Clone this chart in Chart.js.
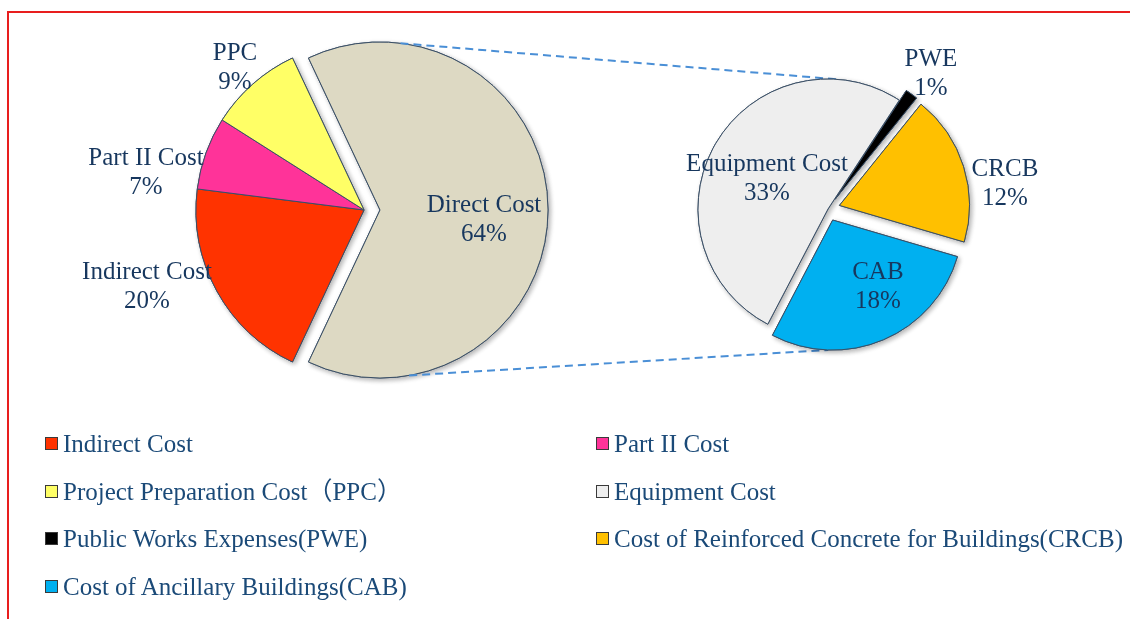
<!DOCTYPE html>
<html><head><meta charset="utf-8">
<script src="https://cdn.jsdelivr.net/npm/chart.js@4.4.1/dist/chart.umd.min.js"></script>
<style>
html,body{margin:0;padding:0;width:1130px;height:619px;overflow:hidden;background:#fff;}
#frame{position:absolute;left:7px;top:11px;width:1300px;height:800px;border:2px solid #e81e1e;box-sizing:border-box;}
canvas{position:absolute;left:0;top:0;}
#legend{position:absolute;left:0;top:0;width:1130px;height:619px;font-family:"Liberation Serif","Times New Roman","Noto Sans CJK SC",serif;font-size:25px;color:#1B4A78;}
.item{position:absolute;display:flex;align-items:center;white-space:nowrap;height:25px;line-height:25px;}
.sw{width:11px;height:11px;border:1px solid #3a3a3a;margin-right:5px;flex:none;}
</style></head>
<body>
<div id="frame"></div>
<canvas id="leftPie" width="1130" height="619"></canvas>
<canvas id="rightPie" width="1130" height="619"></canvas>
<div id="legend"></div>
<script>
// ---- data ----
const leftCategories = ['Direct Cost', 'Indirect Cost', 'Part II Cost', 'PPC'];
const leftValues = [64, 20, 7, 9];
const rightCategories = ['Equipment Cost', 'PWE', 'CRCB', 'CAB'];
const rightValues = [33, 1, 12, 18];
const legendCategories = ['Indirect Cost', 'Part II Cost', 'Project Preparation Cost（PPC）', 'Equipment Cost',
  'Public Works Expenses(PWE)', 'Cost of Reinforced Concrete for Buildings(CRCB)', 'Cost of Ancillary Buildings(CAB)'];

// ---- styles ----
const leftColors = ['#DDD9C3', '#FF3300', '#FF3399', '#FFFF66'];
const rightColors = ['#EEEEEE', '#000000', '#FFC000', '#00B0F0'];
const legendColors = leftColors.slice(1).concat(rightColors);
const leftExplode = [16, 0, 0, 0];
const rightExplode = [0, 12, 12, 12];
const leftLabelPos = [[0.716, 3.8], [1.367, 9.7], [1.318, -9.7], [1.15, -0.5]];
const rightLabelPos = [[0.528, -3.1], [1.315, 1], [1.377, 8.7], [0.70, -10.2]];
const labelColor = '#17375E';
const sliceBorder = '#3A4F66';

const rad = d => d * Math.PI / 180;

function piePlugin(explode, labelPos, cats, vals) {
  return {
    id: 'pieCustom',
    beforeDatasetDraw(chart, args) {
      const ctx = chart.ctx;
      const arcs = args.meta.data;
      for (let pass = 0; pass < 2; pass++) {
        arcs.forEach((arc, i) => {
          const mid = (arc.startAngle + arc.endAngle) / 2;
          ctx.save();
          if (pass === 0) {
            ctx.shadowColor = 'rgba(0,0,0,0.3)';
            ctx.shadowBlur = 5;
            ctx.shadowOffsetX = 2;
            ctx.shadowOffsetY = 2;
          }
          ctx.translate(Math.cos(mid) * explode[i], Math.sin(mid) * explode[i]);
          arc.draw(ctx);
          ctx.restore();
        });
      }
      return false;
    },
    afterDatasetsDraw(chart) {
      const ctx = chart.ctx;
      const arcs = chart.getDatasetMeta(0).data;
      ctx.save();
      ctx.font = '25px "Liberation Serif", "Times New Roman", serif';
      ctx.fillStyle = labelColor;
      ctx.textAlign = 'center';
      ctx.textBaseline = 'alphabetic';
      arcs.forEach((arc, i) => {
        const a = (arc.startAngle + arc.endAngle) / 2 + rad(labelPos[i][1]);
        const d = arc.outerRadius * labelPos[i][0];
        const x = arc.x + Math.cos(a) * d, y = arc.y + Math.sin(a) * d;
        ctx.fillText(cats[i], x, y - 14.5 + 8.3);
        ctx.fillText(vals[i] + '%', x, y + 14.5 + 8.3);
      });
      ctx.restore();
    }
  };
}

function baseOptions(padding, radius, rotation) {
  return {
    responsive: false, animation: false, devicePixelRatio: 1,
    radius: radius, rotation: rotation,
    layout: { padding: padding },
    events: [],
    plugins: { legend: { display: false }, tooltip: { enabled: false } }
  };
}

const leftChart = new Chart(document.getElementById('leftPie'), {
  type: 'pie',
  data: { labels: leftCategories, datasets: [{ data: leftValues, backgroundColor: leftColors, borderColor: sliceBorder, borderWidth: 1 }] },
  options: baseOptions({ left: 0, right: 402, top: 0, bottom: 199 }, 168, -25.2),
  plugins: [piePlugin(leftExplode, leftLabelPos, leftCategories, leftValues)]
});

function arcPoint(arc, ex, deg) {
  const mid = (arc.startAngle + arc.endAngle) / 2;
  const cx = arc.x + Math.cos(mid) * ex, cy = arc.y + Math.sin(mid) * ex;
  const a = rad(deg - 90);
  return [cx + Math.cos(a) * arc.outerRadius, cy + Math.sin(a) * arc.outerRadius];
}

const connectorPlugin = {
  id: 'connectors',
  beforeDatasetsDraw(chart) {
    const L = leftChart.getDatasetMeta(0).data[0];
    const R = chart.getDatasetMeta(0).data;
    const segs = [
      [arcPoint(L, leftExplode[0], 7), arcPoint(R[0], rightExplode[0], 5)],
      [arcPoint(L, leftExplode[0], 170), arcPoint(R[3], rightExplode[3], 182)]
    ];
    const ctx = chart.ctx;
    ctx.save();
    ctx.strokeStyle = '#4A8FD6';
    ctx.lineWidth = 2;
    ctx.setLineDash([8, 5]);
    segs.forEach(([p, q]) => {
      ctx.beginPath(); ctx.moveTo(p[0], p[1]); ctx.lineTo(q[0], q[1]); ctx.stroke();
    });
    ctx.restore();
  }
};

new Chart(document.getElementById('rightPie'), {
  type: 'pie',
  data: { labels: rightCategories, datasets: [{ data: rightValues, backgroundColor: rightColors, borderColor: sliceBorder, borderWidth: 1 }] },
  options: baseOptions({ left: 526, right: 0, top: 0, bottom: 201 }, 130, 207.6),
  plugins: [connectorPlugin, piePlugin(rightExplode, rightLabelPos, rightCategories, rightValues)]
});

// ---- legend (HTML, built from arrays) ----
const legendEl = document.getElementById('legend');
const rowTop = 431, rowStep = 47.6, colX = [45, 596];
legendCategories.forEach((name, i) => {
  const it = document.createElement('div');
  it.className = 'item';
  it.style.left = colX[i % 2] + 'px';
  it.style.top = (rowTop + Math.floor(i / 2) * rowStep) + 'px';
  const sw = document.createElement('span');
  sw.className = 'sw';
  sw.style.background = legendColors[i];
  const tx = document.createElement('span');
  tx.textContent = name;
  it.appendChild(sw); it.appendChild(tx);
  legendEl.appendChild(it);
});
</script>
</body></html>
